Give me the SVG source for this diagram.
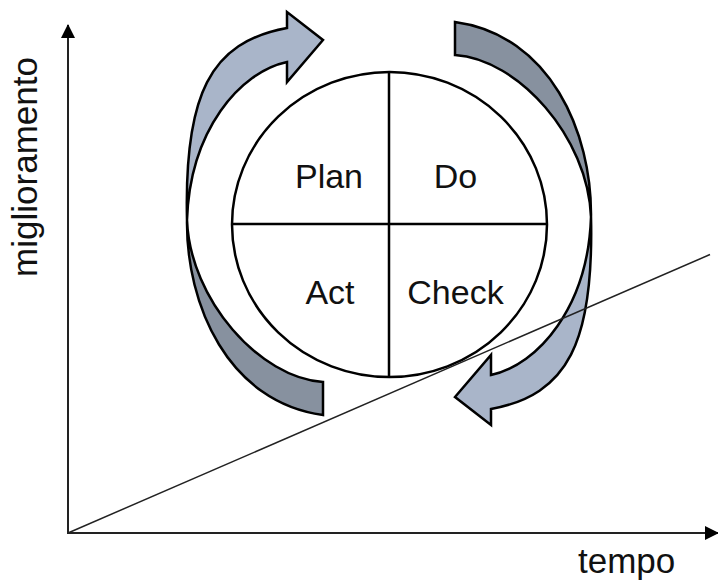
<svg xmlns="http://www.w3.org/2000/svg" xmlns:xlink="http://www.w3.org/1999/xlink" width="718" height="585" viewBox="0 0 718 585">
  <style>
    .lbl { font-family: "Liberation Sans", Arial, sans-serif; fill: #111; }
    .arrow-light { fill: #a9b5c9; stroke: #000; stroke-width: 2.5; stroke-linejoin: miter; }
    .arrow-dark { fill: #87919f; stroke: #000; stroke-width: 2.5; stroke-linejoin: miter; }
    .axis { stroke: #222; stroke-width: 2; fill: none; }
    .divider { stroke: #000; stroke-width: 2.5; }
  </style>
  <defs>
    <marker id="axis-head" viewBox="0 0 14 14" refX="13" refY="7" markerWidth="14" markerHeight="14" markerUnits="userSpaceOnUse" orient="auto">
      <path d="M0,0 L14,7 L0,14 Z" fill="#000"/>
    </marker>
    <!-- one half of the ring: curved arrow on top, shaded back band below -->
    <g id="ring-half">
      <path class="arrow-dark" d="M187,220 C186,305 228,402 323,415 L323,382 C260,378 190,300 187,220 Z"/>
      <path class="arrow-light" d="M187,220 C184,95 210,42 287,28 L287,12 L323,40 L287,82 L287,62 C240,72 190,130 187,220 Z"/>
    </g>
  </defs>

  <!-- rotating ring around the PDCA circle -->
  <g id="cycle-ring">
    <use xlink:href="#ring-half"/>
    <use xlink:href="#ring-half" transform="rotate(180 389 218.5)"/>
  </g>

  <!-- PDCA circle with its four quadrants -->
  <g id="pdca-circle">
    <ellipse cx="389.5" cy="224.5" rx="157.5" ry="152.5" fill="#fff" stroke="#000" stroke-width="2.5"/>
    <line class="divider" x1="389" y1="72" x2="389" y2="377"/>
    <line class="divider" x1="232" y1="224" x2="547" y2="224"/>
  </g>
  <g id="plan"><text class="lbl" x="329" y="188" font-size="34" text-anchor="middle">Plan</text></g>
  <g id="do"><text class="lbl" x="455.5" y="188" font-size="34" text-anchor="middle">Do</text></g>
  <g id="act"><text class="lbl" x="330" y="304" font-size="34" text-anchor="middle">Act</text></g>
  <g id="check"><text class="lbl" x="455.5" y="304" font-size="34" text-anchor="middle">Check</text></g>

  <!-- improvement trend and axes -->
  <g id="connectors">
    <line x1="68" y1="533" x2="710" y2="254.5" stroke="#222" stroke-width="1.5"/>
    <line class="axis" x1="68" y1="534" x2="68" y2="25" marker-end="url(#axis-head)"/>
    <line class="axis" x1="67" y1="533" x2="718" y2="533" marker-end="url(#axis-head)"/>
  </g>
  <g id="axis-labels">
    <text class="lbl" font-size="35" text-anchor="middle" transform="translate(37,167) rotate(-90)">miglioramento</text>
    <text class="lbl" x="578" y="573" font-size="35">tempo</text>
  </g>
</svg>
